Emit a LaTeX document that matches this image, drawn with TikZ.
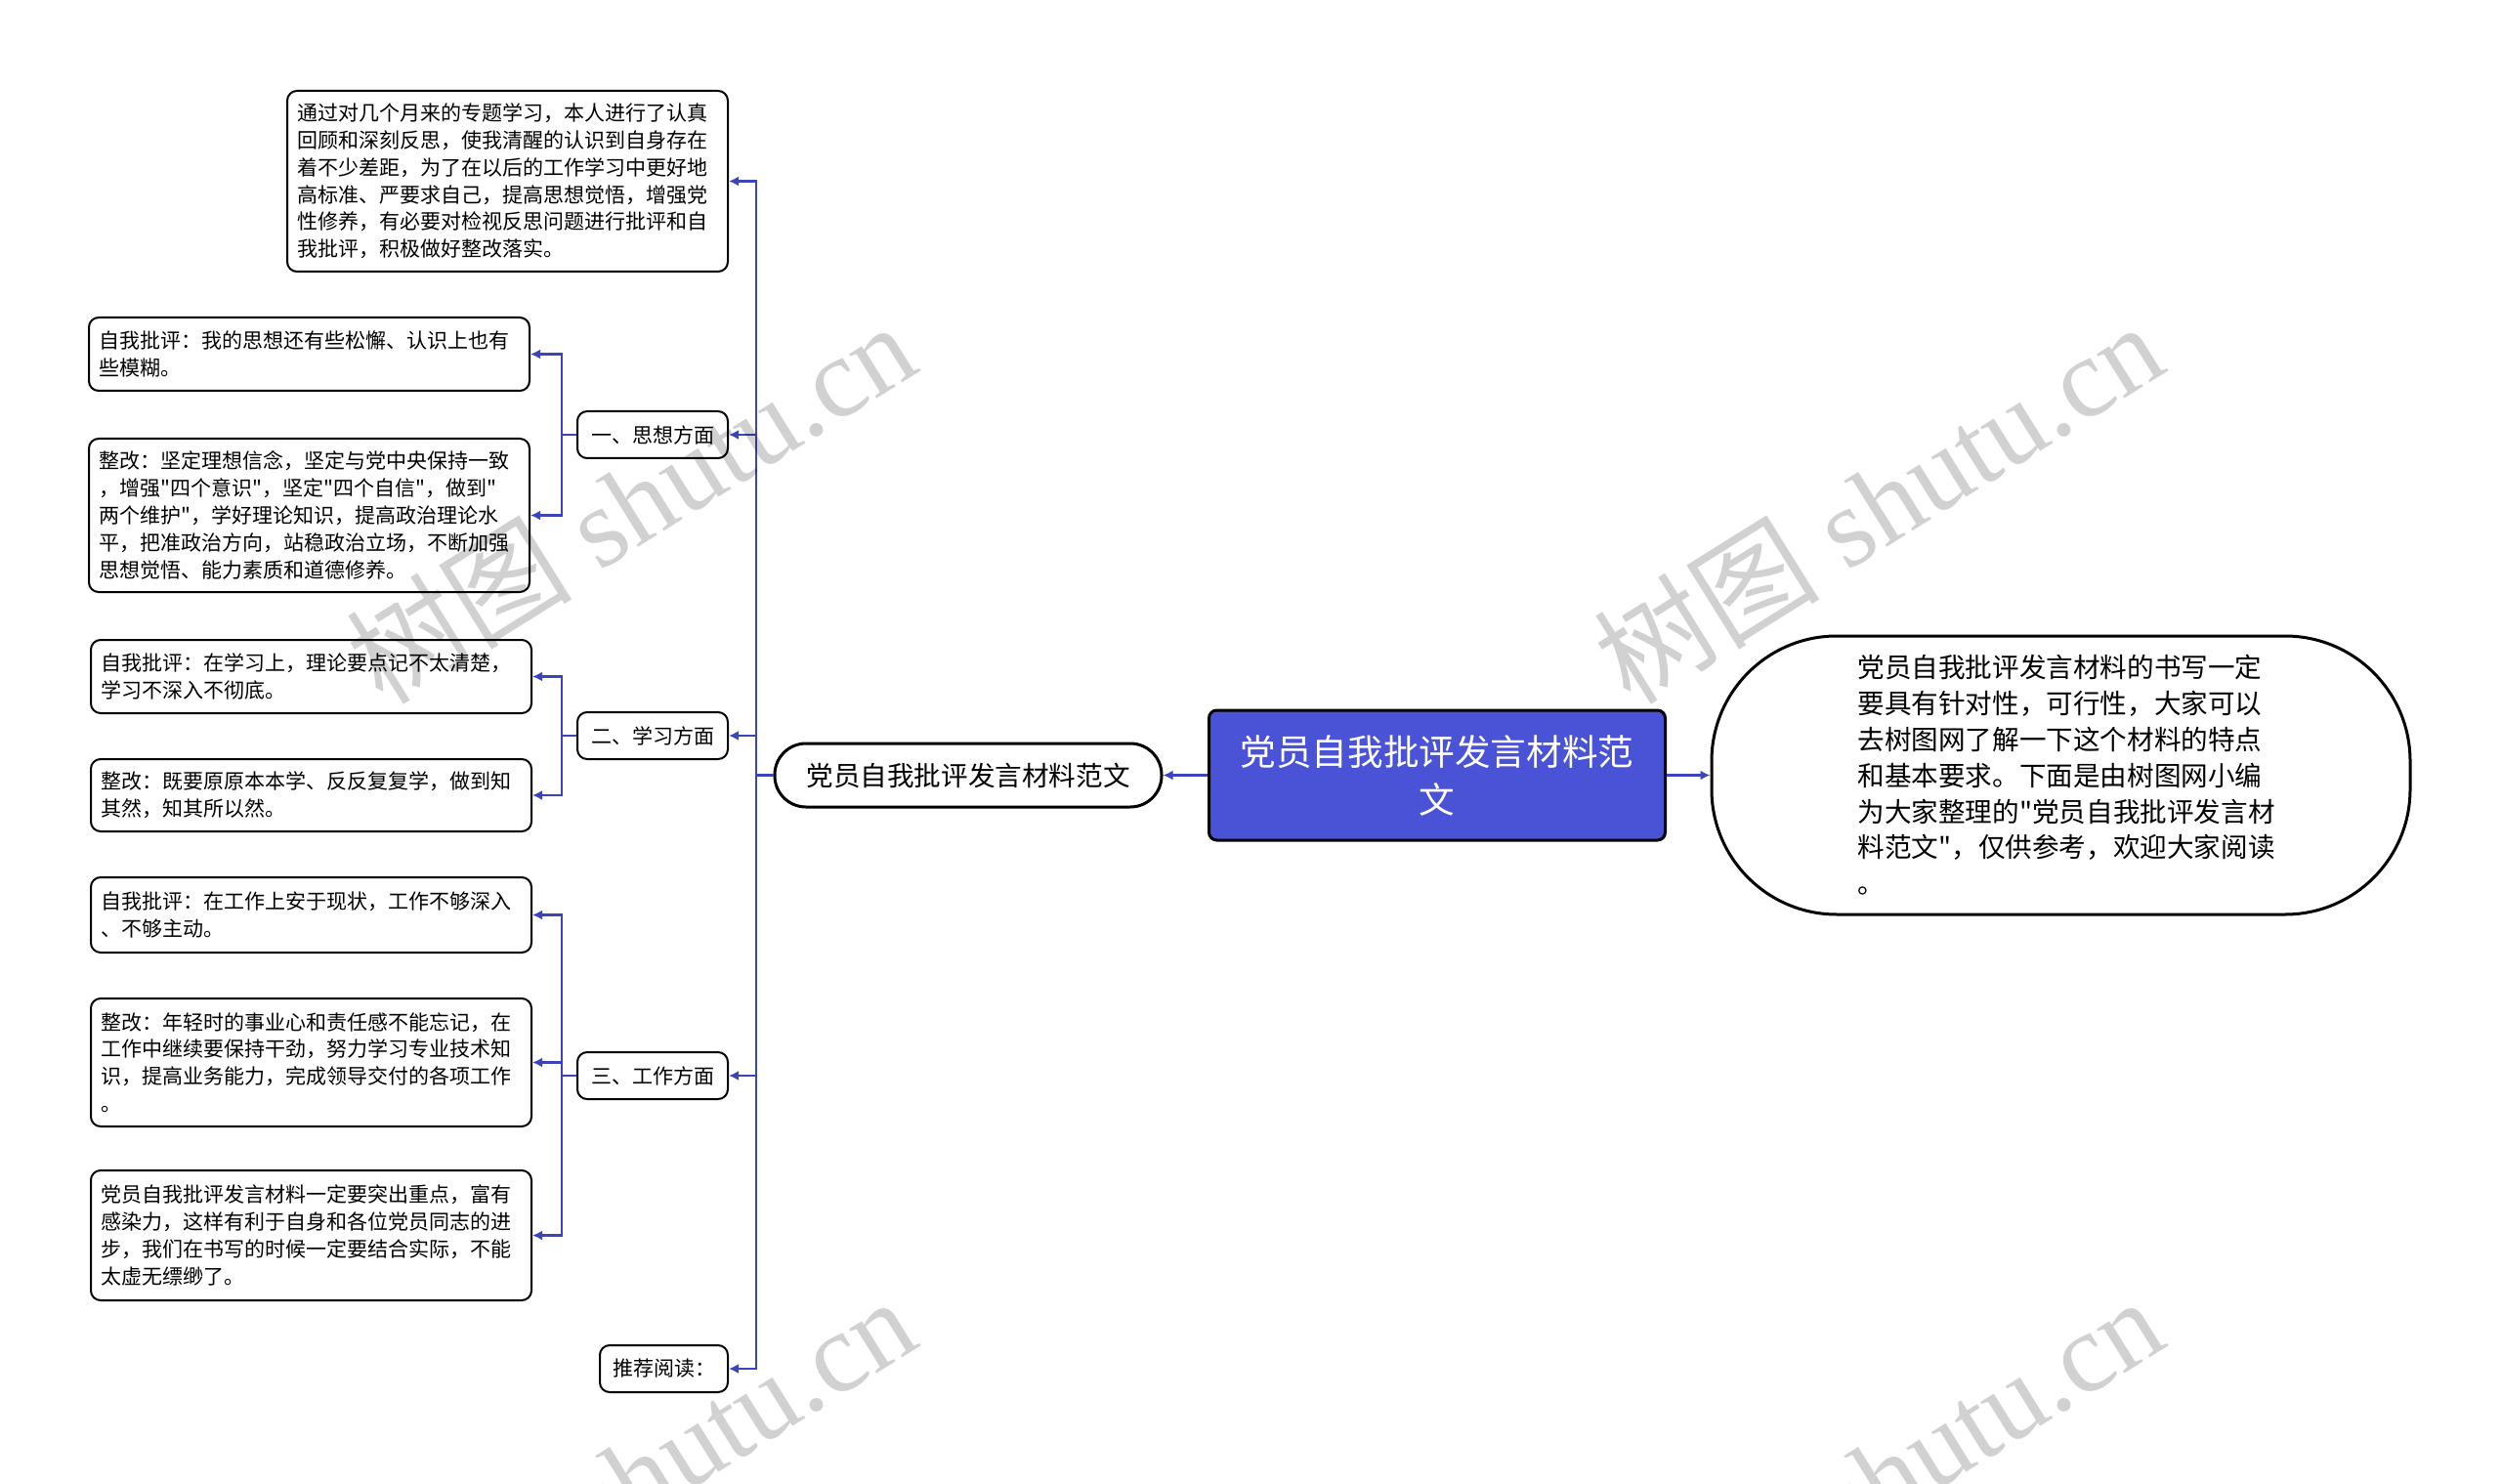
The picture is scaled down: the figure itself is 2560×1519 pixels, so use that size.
\documentclass[tikz,border=0pt]{standalone}
\usepackage{fontspec}
\usepackage{xcolor}
\usetikzlibrary{arrows.meta}
\newfontfamily\cjk{Noto Sans CJK SC}
\newfontfamily\wmfont{Liberation Serif}
\definecolor{rootblue}{RGB}{74,82,214}
\definecolor{linkblue}{RGB}{60,68,186}
\tikzset{
  leaf/.style={draw, line width=1pt, rounded corners=5pt, fill=white, text width=215pt,
    inner xsep=5.25pt, inner ysep=0pt, align=left, font=\cjk\fontsize{10.5}{13.9}\selectfont},
  cat/.style={draw, line width=1pt, rounded corners=5pt, fill=white, minimum height=24pt,
    inner xsep=0pt, font=\cjk\fontsize{10.5}{13.9}\selectfont},
  link/.style={draw=linkblue, line width=1.3pt, -{Latex[length=5pt,width=5pt]}},
  wm/.style={rotate=32, text=black, opacity=0.18, font=\wmfont\fontsize{58}{58}\selectfont}
}

\begin{document}
\begin{tikzpicture}[x=0.5pt, y=-0.5pt]
    \useasboundingbox (0,0) rectangle (2560,1519);

    \node[draw, line width=1.5pt, rounded corners=4pt, fill=rootblue, text=white,
        minimum width=233.5pt, minimum height=66.5pt, align=center,
        font=\cjk\fontsize{18.3}{24.5}\selectfont] (root) at (1471,793.5)
        {党员自我批评发言材料范\\文};
    \node[draw, line width=1.5pt, rounded corners=16pt, fill=white,
        minimum width=198pt, minimum height=32.5pt,
        font=\cjk\fontsize{13.8}{18}\selectfont] (sub) at (991,793.5) {党员自我批评发言材料范文};
    \node[draw, line width=1.5pt, rounded corners=64pt, fill=white, text width=208pt,
        minimum width=357.5pt, minimum height=142.5pt, inner ysep=0pt, align=left,
        font=\cjk\fontsize{13.8}{18.4}\selectfont] (note) at (2109.5,793.5)
        {党员自我批评发言材料的书写一定\\要具有针对性，可行性，大家可以\\去树图网了解一下这个材料的特点\\和基本要求。下面是由树图网小编\\为大家整理的"党员自我批评发言材\\料范文"，仅供参考，欢迎大家阅读\\。};

    \node[leaf, minimum height=92.5pt] (intro) at (519.5,185.5)
        {通过对几个月来的专题学习，本人进行了认真\\回顾和深刻反思，使我清醒的认识到自身存在\\着不少差距，为了在以后的工作学习中更好地\\高标准、严要求自己，提高思想觉悟，增强党\\性修养，有必要对检视反思问题进行批评和自\\我批评，积极做好整改落实。};

    \node[cat, minimum width=77pt] (c1) at (668,445) {一、思想方面};
    \node[leaf, minimum height=37.5pt] (c1a) at (316.5,362.5)
        {自我批评：我的思想还有些松懈、认识上也有\\些模糊。};
    \node[leaf, minimum height=78.5pt] (c1b) at (316.5,527.5)
        {整改：坚定理想信念，坚定与党中央保持一致\\，增强"四个意识"，坚定"四个自信"，做到"\\两个维护"，学好理论知识，提高政治理论水\\平，把准政治方向，站稳政治立场，不断加强\\思想觉悟、能力素质和道德修养。};

    \node[cat, minimum width=77pt] (c2) at (668,753) {二、学习方面};
    \node[leaf, minimum height=37.5pt] (c2a) at (318.5,692.5)
        {自我批评：在学习上，理论要点记不太清楚，\\学习不深入不彻底。};
    \node[leaf, minimum height=37pt] (c2b) at (318.5,814)
        {整改：既要原原本本学、反反复复学，做到知\\其然，知其所以然。};

    \node[cat, minimum width=77pt] (c3) at (668,1101) {三、工作方面};
    \node[leaf, minimum height=38.5pt] (c3a) at (318.5,936.5)
        {自我批评：在工作上安于现状，工作不够深入\\、不够主动。};
    \node[leaf, minimum height=65.5pt] (c3b) at (318.5,1087.5)
        {整改：年轻时的事业心和责任感不能忘记，在\\工作中继续要保持干劲，努力学习专业技术知\\识，提高业务能力，完成领导交付的各项工作\\。};
    \node[leaf, minimum height=66.5pt] (c3c) at (318.5,1264.5)
        {党员自我批评发言材料一定要突出重点，富有\\感染力，这样有利于自身和各位党员同志的进\\步，我们在书写的时候一定要结合实际，不能\\太虚无缥缈了。};

    \node[cat, minimum width=65.5pt] (more) at (679.5,1401) {推荐阅读：};

    \coordinate (trk) at (774,793.5);
    \coordinate (b1) at (575,445);
    \coordinate (b2) at (575,753);
    \coordinate (b3) at (575,1101);

    \draw[link] (root) -- (sub);
    \draw[link] (root) -- (note);
    \foreach \t in {intro,c1,c2,c3,more}
        \draw[link] (sub.west) -- (trk) |- (\t.east);
    \foreach \t in {c1a,c1b}
        \draw[link] (c1.west) -- (b1) |- (\t.east);
    \foreach \t in {c2a,c2b}
        \draw[link] (c2.west) -- (b2) |- (\t.east);
    \foreach \t in {c3a,c3b,c3c}
        \draw[link] (c3.west) -- (b3) |- (\t.east);

    % watermarks
    \node[wm] (wm1) at (645,514) {{\cjk 树图} shutu.cn};
    \node[wm] (wm2) at (1922,514) {{\cjk 树图} shutu.cn};
    \node[wm] (wm3) at (645,1512) {{\cjk 树图} shutu.cn};
    \node[wm] (wm4) at (1922,1512) {{\cjk 树图} shutu.cn};
\end{tikzpicture}
\end{document}
